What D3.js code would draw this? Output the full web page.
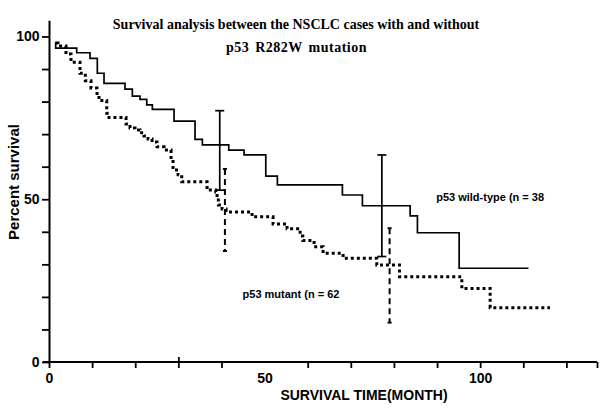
<!DOCTYPE html>
<html>
<head>
<meta charset="utf-8">
<script src="https://cdn.jsdelivr.net/npm/d3@7"></script>
<style>
  html, body { margin: 0; padding: 0; background: #fff; }
  svg { display: block; }
</style>
</head>
<body>
<svg id="chart" width="600" height="410"></svg>
<script>
// ---- data ----
const titleLines = ["Survival analysis between the NSCLC cases with and without", "p53 R282W mutation"];
const xLabel = "SURVIVAL TIME(MONTH)";
const yLabel = "Percent survival";

const wtTime = [1.55, 1.55, 6.43, 9.51, 11.21, 12.76, 17.63, 19.33, 21.11, 22.67, 23.97, 29.00, 33.87, 35.57, 41.69, 45.24, 50.28, 52.97, 68.05, 72.69, 83.76, 85.45, 95.13];
const wtSurv = [98.4, 96.4, 95.0, 93.3, 88.7, 85.6, 83.8, 81.7, 80.7, 79.0, 77.6, 74.0, 68.4, 66.7, 65.1, 63.6, 57.1, 54.4, 51.3, 48.0, 44.9, 39.7, 28.8];
const wtLastTime = 111.2;

const mutTime = [1.62, 2.09, 3.94, 5.10, 7.19, 8.42, 9.74, 11.14, 11.60, 13.39, 13.92, 17.87, 18.79, 19.95, 21.11, 22.04, 22.97, 23.90, 25.06, 26.68, 28.31, 28.77, 29.93, 30.79, 36.66, 38.68, 38.98, 39.28, 40.14, 41.07, 47.10, 51.97, 55.22, 58.24, 58.86, 61.48, 63.57, 68.21, 76.03, 81.28, 95.75, 102.32];
const mutSurv = [98.0, 97.1, 94.6, 92.1, 88.7, 86.4, 84.2, 81.8, 80.3, 76.4, 75.1, 73.1, 71.9, 71.3, 70.4, 69.4, 68.5, 67.6, 66.1, 65.1, 62.1, 59.0, 57.5, 55.4, 52.8, 52.2, 50.3, 48.2, 47.0, 46.1, 44.6, 42.4, 40.9, 38.7, 37.3, 35.4, 33.4, 31.9, 29.8, 26.2, 22.6, 16.7];
const mutLastTime = 116.2;

const wtErrTime = [39.6, 77.2];
const wtErrHigh = [77.2, 63.6];
const wtErrLow  = [52.8, 32.4];
const mutErrTime = [40.8, 79.0];
const mutErrHigh = [59.3, 41.1];
const mutErrLow  = [34.1, 12.1];

const wtLabel = "p53 wild-type (n = 38";
const wtLabelPos = [89.8, 49.5];
const mutLabel = "p53 mutant (n = 62";
const mutLabelPos = [44.9, 19.7];

const xTicks = [0, 10, 20, 30, 40, 50, 60, 70, 80, 90, 100, 110, 120, 127.1];
const xTickLabels = {0: "0", 50: "50", 100: "100"};
const yTicks = [0, 10, 20, 30, 40, 50, 60, 70, 80, 90, 100];
const yTickLabels = {0: "0", 50: "50", 100: "100"};
const xMax = 127.1, yMax = 105;

// ---- drawing ----
const svg = d3.select("#chart");
const x = d3.scaleLinear().domain([0, xMax]).range([49, 597]);
const y = d3.scaleLinear().domain([0, yMax]).range([362, 20.2]);
const SANS = "'Liberation Sans', Arial, sans-serif";
const SERIF = "'Liberation Serif', 'Times New Roman', serif";

// axes
const xAxis = d3.axisBottom(x).tickValues(xTicks).tickSize(6).tickSizeOuter(0).tickPadding(5.5)
  .tickFormat(d => xTickLabels[d] || "");
const gx = svg.append("g").attr("transform", `translate(0,${y(0)})`).call(xAxis);
gx.selectAll("text").attr("font-family", SANS).attr("font-weight", "bold").attr("font-size", 14).attr("fill", "#000");
gx.select(".domain").attr("stroke", "#000").attr("stroke-width", 2).attr("d", `M${x(0)-6},0H${x(xMax)}`);
gx.selectAll(".tick line").attr("stroke", "#000").attr("stroke-width", 1.8)
  .attr("y1", d => d === 30 ? -5 : 0)
  .attr("stroke-opacity", d => d === 50 ? 0 : 1);

const yAxis = d3.axisLeft(y).tickValues(yTicks).tickSize(7).tickSizeOuter(0).tickPadding(2.5)
  .tickFormat(d => yTickLabels[d] || "");
const gy = svg.append("g").attr("transform", `translate(${x(0)},0)`).call(yAxis);
gy.selectAll("text").attr("font-family", SANS).attr("font-weight", "bold").attr("font-size", 14).attr("fill", "#000");
gy.select(".domain").attr("stroke", "#000").attr("stroke-width", 2);
gy.selectAll(".tick line").attr("stroke", "#000").attr("stroke-width", 1.8);

// curves
const line = d3.line().x(d => x(d[0])).y(d => y(d[1])).curve(d3.curveStepAfter);
const wtPts = wtTime.map((t, i) => [t, wtSurv[i]]);
wtPts.push([wtLastTime, wtSurv[wtSurv.length - 1]]);
const mutPts = mutTime.map((t, i) => [t, mutSurv[i]]);
mutPts.push([mutLastTime, mutSurv[mutSurv.length - 1]]);

svg.append("path").datum(mutPts).attr("d", line)
  .attr("fill", "none").attr("stroke", "#000").attr("stroke-width", 3)
  .attr("stroke-dasharray", "3,3");
svg.append("path").datum(wtPts).attr("d", line)
  .attr("fill", "none").attr("stroke", "#000").attr("stroke-width", 1.7);

// error bars
function errBars(times, hi, lo, capW, style) {
  const g = svg.append("g").attr("stroke", "#000").attr("fill", "none");
  times.forEach((t, i) => {
    g.append("line").attr("x1", x(t)).attr("x2", x(t)).attr("y1", y(hi[i])).attr("y2", y(lo[i]))
      .attr("stroke-width", style.w).attr("stroke-dasharray", style.dash || null);
    [hi[i], lo[i]].forEach(v => {
      g.append("line").attr("x1", x(t) - capW / 2).attr("x2", x(t) + capW / 2)
        .attr("y1", y(v)).attr("y2", y(v)).attr("stroke-width", style.w);
    });
  });
}
errBars(wtErrTime, wtErrHigh, wtErrLow, 9, {w: 1.7});
errBars(mutErrTime, mutErrHigh, mutErrLow, 4, {w: 2, dash: "6,4"});

// labels
svg.append("text").attr("x", x(wtLabelPos[0])).attr("y", y(wtLabelPos[1]))
  .attr("font-family", SANS).attr("font-weight", "bold").attr("font-size", 11).text(wtLabel);
svg.append("text").attr("x", x(mutLabelPos[0])).attr("y", y(mutLabelPos[1]))
  .attr("font-family", SANS).attr("font-weight", "bold").attr("font-size", 11).text(mutLabel);

// title
svg.append("text").attr("x", 296).attr("y", 29.3).attr("text-anchor", "middle")
  .attr("font-family", SERIF).attr("font-weight", "bold").attr("font-size", 14).text(titleLines[0]);
svg.append("text").attr("x", 296.5).attr("y", 51.5).attr("text-anchor", "middle")
  .attr("font-family", SERIF).attr("font-weight", "bold").attr("font-size", 14)
  .attr("letter-spacing", 0.5).attr("word-spacing", 2).text(titleLines[1]);

// axis titles
svg.append("text").attr("x", 364).attr("y", 400).attr("text-anchor", "middle")
  .attr("font-family", SANS).attr("font-weight", "bold").attr("font-size", 14).text(xLabel);
svg.append("text").attr("transform", "translate(18.5,182) rotate(-90)").attr("text-anchor", "middle")
  .attr("font-family", SANS).attr("font-weight", "bold").attr("font-size", 15).text(yLabel);
</script>
</body>
</html>
